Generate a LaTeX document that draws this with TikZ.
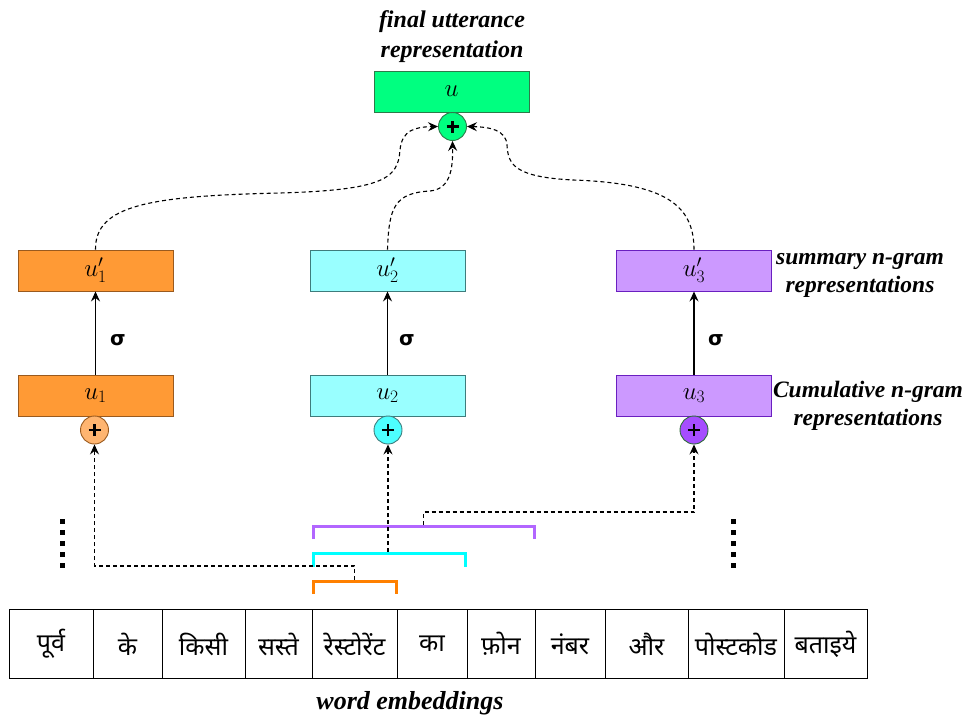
\RequirePackage{fix-cm}
\documentclass[tikz,border=0pt]{standalone}
\usepackage{fontspec}
\setmainfont{Liberation Serif}
\newfontfamily\devafont[Script=Devanagari]{Noto Sans}
\newfontfamily\symfont{DejaVu Sans}
\usetikzlibrary{arrows.meta}

\definecolor{grnfill}{HTML}{00FF80}
\definecolor{grnline}{HTML}{2D7A4A}
\definecolor{orfill}{HTML}{FF9A35}
\definecolor{orline}{HTML}{9A5A1E}
\definecolor{orcirc}{HTML}{FFB570}
\definecolor{cyfill}{HTML}{99FFFF}
\definecolor{cyline}{HTML}{3E7C7C}
\definecolor{cycirc}{HTML}{4DFFFF}
\definecolor{pufill}{HTML}{CC99FF}
\definecolor{puline}{HTML}{6A1FC0}
\definecolor{pucirc}{HTML}{A64DFF}
\definecolor{puring}{HTML}{2D6A3A}
\definecolor{brOr}{HTML}{FF8000}
\definecolor{brCy}{HTML}{00FFFF}
\definecolor{brPu}{HTML}{B266FF}

\tikzset{
  vecbox/.style={draw, line width=0.9pt, minimum width=155pt, minimum height=41pt,
    inner sep=0pt, font=\fontsize{25}{28}\selectfont},
  sumnode/.style={circle, draw, line width=0.9pt, minimum size=28pt, inner sep=0pt,
    path picture={
      \draw[line width=2.6pt, black]
        ([xshift=-6pt]path picture bounding box.center) -- ([xshift=6pt]path picture bounding box.center)
        ([yshift=-6pt]path picture bounding box.center) -- ([yshift=6pt]path picture bounding box.center);
    }},
  lbl/.style={font=\fontsize{23.5}{28}\selectfont\bfseries\itshape, align=center, inner sep=0pt},
  sig/.style={font=\fontsize{20}{22}\selectfont\symfont\bfseries, inner sep=0pt},
  word/.style={draw, line width=0.9pt, minimum height=69pt, inner sep=0pt,
    font=\fontsize{25}{28}\selectfont\devafont},
  conn/.style={dash pattern=on 4pt off 3pt, line width=1.1pt,
    -{Stealth[length=10pt, width=9pt, inset=3.5pt]}},
  solidarrow/.style={line width=1.1pt, -{Stealth[length=10pt, width=9pt, inset=3.5pt]}},
  bracket/.style={line width=3pt},
  dot/.style={fill=black, minimum size=5pt, inner sep=0pt}
}

\begin{document}
\begin{tikzpicture}[x=1pt, y=-1pt]
\useasboundingbox (0,0) rectangle (966,717);

% final utterance
\node[lbl, font=\fontsize{24}{30}\selectfont\bfseries\itshape] (title) at (452,37) {final utterance\\representation};
\node[vecbox, fill=grnfill, draw=grnline] (u) at (451.5,91.5) {$u$};
\node[sumnode, fill=grnfill, draw=grnline] (top) at (452.5,126.5) {};

% summary n-gram boxes
\node[vecbox, fill=orfill, draw=orline] (s1) at (95.5,270.5) {$u'_1$};
\node[vecbox, fill=cyfill, draw=cyline] (s2) at (387.5,270.5) {$u'_2$};
\node[vecbox, fill=pufill, draw=puline] (s3) at (694,270.5) {$u'_3$};

% cumulative n-gram boxes
\node[vecbox, fill=orfill, draw=orline] (c1) at (95.5,395.5) {$u_1$};
\node[vecbox, fill=cyfill, draw=cyline] (c2) at (387.5,395.5) {$u_2$};
\node[vecbox, fill=pufill, draw=puline] (c3) at (694,395.5) {$u_3$};

% sums feeding the cumulative boxes
\node[sumnode, fill=orcirc, draw=orline] (p1) at (94.5,430) {};
\node[sumnode, fill=cycirc, draw=cyline] (p2) at (388,430) {};
\node[sumnode, fill=pucirc, draw=puring] (p3) at (694,430) {};

% side labels
\node[lbl] (sumlbl) at (860,275) {summary n-gram\\representations};
\node[lbl] (cumlbl) at (868,406) {Cumulative n-gram\\representations};

% sigma transitions
\draw[solidarrow] (c1.north) -- (s1.south);
\draw[solidarrow] (c2.north) -- (s2.south);
\draw[solidarrow] (c3.north) -- (s3.south);
\node[sig] (sg1) at (118,340) {σ};
\node[sig] (sg2) at (407,340) {σ};
\node[sig] (sg3) at (716,340) {σ};

% summaries combined into the utterance vector
\draw[conn] (s1.north) .. controls (95,205) and (150,196) .. (280,193)
  .. controls (385,190) and (398,178) .. (400,150)
  .. controls (402,130) and (415,127) .. (top.west);
\draw[conn] (s2.north) .. controls (389,208) and (394,193) .. (430,191)
  .. controls (450,189) and (453,170) .. (top.south);
\draw[conn] (s3.north) .. controls (694,205) and (665,183) .. (573,180)
  .. controls (515,177) and (508,165) .. (507,145)
  .. controls (506,130) and (490,127) .. (top.east);

% word embeddings
\node[word, minimum width=84pt] (w1) at (51,644) {पूर्व};
\node[word, minimum width=69pt] (w2) at (127.5,644) {के};
\node[word, minimum width=83pt] (w3) at (203.5,644) {किसी};
\node[word, minimum width=67pt] (w4) at (278.5,644) {सस्ते};
\node[word, minimum width=85pt] (w5) at (354.5,644) {रेस्टोरेंट};
\node[word, minimum width=70pt] (w6) at (432,644) {का};
\node[word, minimum width=68pt] (w7) at (501,644) {फ़ोन};
\node[word, minimum width=70pt] (w8) at (570,644) {नंबर};
\node[word, minimum width=83pt] (w9) at (646.5,644) {और};
\node[word, minimum width=96pt] (w10) at (736,644) {पोस्टकोड};
\node[word, minimum width=83pt] (w11) at (825.5,644) {बताइये};
\node[lbl, font=\fontsize{26}{30}\selectfont\bfseries\itshape] (emb) at (410,703) {word embeddings};

% n-gram spans
\draw[bracket, brOr] (313,594) -- (313,581) -- (396,581) -- (396,594);
\draw[bracket, brCy] (313,567) -- (313,553) -- (465,553) -- (465,567);
\draw[bracket, brPu] (313,539) -- (313,526) -- (534,526) -- (534,539);
\coordinate (mOr) at (354.5,580);
\coordinate (mCy) at (388,552);
\coordinate (mPu) at (423.5,525);

\draw[conn] (mOr) -- (354.5,566) -- (94.5,566) -- (p1.south);
\draw[conn] (mCy) -- (p2.south);
\draw[conn] (mPu) -- (423.5,512) -- (694,512) -- (p3.south);

% continuation marks
\foreach \yy [count=\i] in {521,532,543,554,565} {
  \node[dot] (dl\i) at (62,\yy) {};
  \node[dot] (dr\i) at (733,\yy) {};
}
\end{tikzpicture}
\end{document}
